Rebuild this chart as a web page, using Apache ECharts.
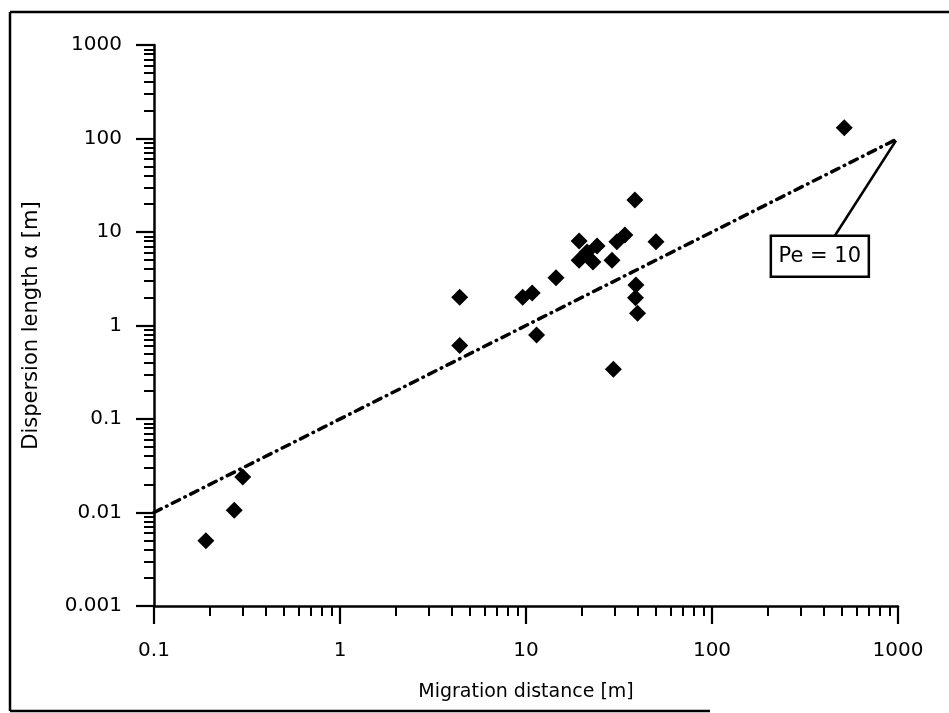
<!DOCTYPE html>
<html>
<head>
<meta charset="utf-8">
<script src="https://cdn.jsdelivr.net/npm/echarts@6/dist/echarts.min.js"></script>
<style>
html,body{margin:0;padding:0;background:#fff;}
#chart{width:949px;height:713px;}
</style>
</head>
<body>
<div id="chart"></div>
<script>
// ---- data ----
const migrationDistance = [0.19, 0.27, 0.30, 4.4, 4.4, 9.6, 10.8, 11.4, 14.5, 19.3, 19.3, 21.3, 22.9, 24.1, 29, 30.8, 34, 38.5, 39, 38.8, 39.8, 29.5, 50, 514];
const dispersionLength  = [0.005, 0.0106, 0.024, 2.0, 0.61, 2.0, 2.23, 0.79, 3.24, 8.0, 5.0, 6.1, 4.77, 7.08, 5.0, 7.87, 9.3, 22, 2.71, 1.98, 1.35, 0.34, 7.87, 130];
const peLineX = [0.1, 1000];
const peLineY = [0.01, 100];
const xTickLabels = ['0.1', '1', '10', '100', '1000'];
const yTickLabels = ['0.001', '0.01', '0.1', '1', '10', '100', '1000'];
const peLabelText = 'Pe = 10';
const peLabelAnchor = [1000, 100];
const peLabelAt = [380, 5.5];

const FONT = 'DejaVu Sans';
const chart = echarts.init(document.getElementById('chart'), null, {renderer: 'canvas'});

function labelFor(list, minExp) {
  return function (v) {
    const i = Math.round(Math.log10(v)) - minExp;
    return list[i] !== undefined ? list[i] : '';
  };
}

const axisCommon = {
  type: 'log',
  logBase: 10,
  axisLine: {show: true, lineStyle: {color: '#000', width: 2.5}},
  axisTick: {show: true, length: 18, lineStyle: {color: '#000', width: 2.2}},
  minorTick: {show: true, splitNumber: 9, length: 10, lineStyle: {color: '#000', width: 2}},
  splitLine: {show: false},
  minorSplitLine: {show: false},
  nameLocation: 'middle',
  nameTextStyle: {color: '#000', fontFamily: FONT}
};

const scatterData = migrationDistance.map((x, i) => [x, dispersionLength[i]]);
const lineData = peLineX.map((x, i) => [x, peLineY[i]]);

chart.setOption({
  animation: false,
  backgroundColor: '#fff',
  grid: {left: 154, right: 51, top: 45, bottom: 107},
  xAxis: Object.assign({}, axisCommon, {
    min: 0.1, max: 1000,
    name: 'Migration distance [m]',
    nameGap: 77,
    nameTextStyle: {color: '#000', fontFamily: FONT, fontSize: 19},
    axisLabel: {color: '#000', fontFamily: FONT, fontSize: 20, margin: 35, formatter: labelFor(xTickLabels, -1)}
  }),
  yAxis: Object.assign({}, axisCommon, {
    min: 0.001, max: 1000,
    name: 'Dispersion length α [m]',
    nameGap: 112,
    nameTextStyle: {color: '#000', fontFamily: FONT, fontSize: 21},
    axisLabel: {color: '#000', fontFamily: FONT, fontSize: 20, margin: 32, formatter: labelFor(yTickLabels, -3)}
  }),
  series: [
    {
      type: 'line',
      data: lineData,
      showSymbol: false,
      symbol: 'none',
      lineStyle: {color: '#000', width: 3.5, type: [8, 6, 0.5, 6], cap: 'round'},
      z: 2
    },
    {
      type: 'scatter',
      data: scatterData,
      symbol: 'diamond',
      symbolSize: 17,
      itemStyle: {color: '#000', opacity: 1},
      z: 3
    }
  ]
});

// annotation placed from data coordinates
const a = chart.convertToPixel({gridIndex: 0}, peLabelAnchor);
const c = chart.convertToPixel({gridIndex: 0}, peLabelAt);
const boxW = 98, boxH = 41;
chart.setOption({
  graphic: [
    // figure frame (scan border)
    {type: 'line', shape: {x1: 10, y1: 12, x2: 949, y2: 12}, style: {stroke: '#000', lineWidth: 2.5}, silent: true},
    {type: 'line', shape: {x1: 10, y1: 12, x2: 10, y2: 711}, style: {stroke: '#000', lineWidth: 2.5}, silent: true},
    {type: 'line', shape: {x1: 10, y1: 711, x2: 710, y2: 711}, style: {stroke: '#000', lineWidth: 2.5}, silent: true},
    // leader line
    {type: 'line', shape: {x1: a[0] - 2, y1: a[1] + 2, x2: c[0] + 15, y2: c[1] - boxH / 2}, style: {stroke: '#000', lineWidth: 2.5}, z: 10},
    // label box
    {type: 'rect', shape: {x: c[0] - boxW / 2, y: c[1] - boxH / 2, width: boxW, height: boxH}, style: {fill: '#fff', stroke: '#000', lineWidth: 2.5}, z: 10},
    {type: 'text', x: c[0], y: c[1], style: {text: peLabelText, fill: '#000', font: '21px "' + FONT + '"', align: 'center', verticalAlign: 'middle'}, z: 11}
  ]
});
</script>
</body>
</html>
